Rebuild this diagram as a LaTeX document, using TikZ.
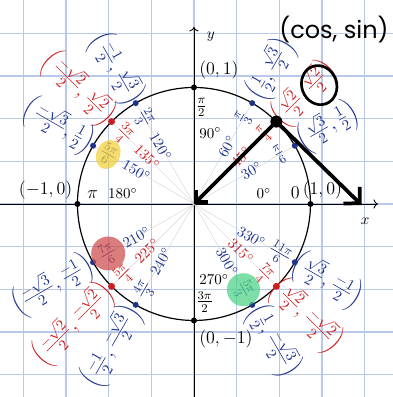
\documentclass[tikz,border=0pt]{standalone}
\usepackage{fontspec}
\newfontfamily\handfont{Poppins}
\usetikzlibrary{arrows.meta}
\definecolor{gridblue}{RGB}{185,200,230}
\definecolor{unitblue}{RGB}{30,50,140}
\definecolor{unitred}{RGB}{205,30,30}
\definecolor{hiyellow}{RGB}{240,205,50}
\definecolor{hired}{RGB}{205,70,70}
\definecolor{higreen}{RGB}{70,210,130}
\tikzset{
  ray/.style={very thin, black!22},
  pen/.style={line width=2.5pt, line cap=round, line join=round},
  blob/.style={opacity=0.7},
  radlabel/.style={font=\large, inner sep=1pt},
  coordlabel/.style={font=\Large, inner sep=1pt},
  ptlabel/.style={font=\large},
}
\begin{document}
\begin{tikzpicture}[x=2.73cm, y=2.73cm]
    \useasboundingbox (-1.665,-1.657) rectangle (1.708,1.751);
    % Paper grid
    \draw[gridblue, line width=0.9pt] (-1.8,-1.8) grid[step=1cm] (1.8,1.8);

    % Axes
    \draw[->, semithick] (-1.7,0) -- (1.579,0) node[below left, xshift=-2pt, yshift=-6pt] (xlab) {$x$};
    \draw[->, semithick] (0,-1.7) -- (0,1.519) node[below right, xshift=5pt] (ylab) {$y$};

    % Unit circle
    \draw[thick] (0,0) circle (1);
    \path (0,0) coordinate (O)
        (0:1) coordinate (p0) (90:1) coordinate (p90) (180:1) coordinate (p180) (270:1) coordinate (p270)
        (30:1) coordinate (p30) (45:1) coordinate (p45) (60:1) coordinate (p60)
        (120:1) coordinate (p120) (135:1) coordinate (p135) (150:1) coordinate (p150)
        (210:1) coordinate (p210) (225:1) coordinate (p225) (240:1) coordinate (p240)
        (300:1) coordinate (p300) (315:1) coordinate (p315) (330:1) coordinate (p330);

    % Rays
    \draw[ray] (O) -- (p30);  \draw[ray] (O) -- (p45);  \draw[ray] (O) -- (p60);
    \draw[ray] (O) -- (p120); \draw[ray] (O) -- (p135); \draw[ray] (O) -- (p150);
    \draw[ray] (O) -- (p210); \draw[ray] (O) -- (p225); \draw[ray] (O) -- (p240);
    \draw[ray] (O) -- (p300); \draw[ray] (O) -- (p315); \draw[ray] (O) -- (p330);

    % Axis labels
    \node[ptlabel, above right, yshift=2pt] (c0p1) at (p90) {$(0,1)$};
    \node[ptlabel, above left] (cm10) at (p180) {$(-1,0)$};
    \node[ptlabel, above, xshift=8pt] (c10) at (p0) {$(1,0)$};
    \node[ptlabel, below right, yshift=-3pt] (c0m1) at (p270) {$(0,-1)$};
    \node[above] (d0) at (0.6,0) {$0^\circ$};
    \node[ptlabel, above] (r0) at (0.87,0) {$0$};
    \node[right] (d90) at (0,0.61) {$90^\circ$};
    \node[radlabel, right] (r90) at (0,0.83) {$\frac{\pi}{2}$};
    \node[above] (d180) at (-0.61,0) {$180^\circ$};
    \node[ptlabel, above] (r180) at (-0.87,0) {$\pi$};
    \node[right] (d270) at (0,-0.65) {$270^\circ$};
    \node[radlabel, right] (r270) at (0,-0.84) {$\frac{3\pi}{2}$};

    % Degrees
    \node[unitblue, rotate=30] (d30) at (30:0.57) {$30^\circ$};
    \node[unitred, rotate=45] (d45) at (45:0.57) {$45^\circ$};
    \node[unitblue, rotate=60] (d60) at (60:0.57) {$60^\circ$};
    \node[unitblue, rotate=-60] (d120) at (120:0.57) {$120^\circ$};
    \node[unitred, rotate=-45] (d135) at (135:0.57) {$135^\circ$};
    \node[unitblue, rotate=-30] (d150) at (150:0.57) {$150^\circ$};
    \node[unitblue, rotate=30] (d210) at (210:0.57) {$210^\circ$};
    \node[unitred, rotate=45] (d225) at (225:0.57) {$225^\circ$};
    \node[unitblue, rotate=60] (d240) at (240:0.57) {$240^\circ$};
    \node[unitblue, rotate=-60] (d300) at (300:0.57) {$300^\circ$};
    \node[unitred, rotate=-45] (d315) at (315:0.57) {$315^\circ$};
    \node[unitblue, rotate=-30] (d330) at (330:0.57) {$330^\circ$};

    % Radians
    \node[radlabel, unitblue, rotate=30] (r30) at (30:0.85) {$\frac{\pi}{6}$};
    \node[radlabel, unitred, rotate=45] (r45) at (45:0.85) {$\frac{\pi}{4}$};
    \node[radlabel, unitblue, rotate=60] (r60) at (60:0.85) {$\frac{\pi}{3}$};
    \node[radlabel, unitblue, rotate=-60] (r120) at (120:0.85) {$\frac{2\pi}{3}$};
    \node[radlabel, unitred, rotate=-45] (r135) at (135:0.85) {$\frac{3\pi}{4}$};
    \node[radlabel, unitblue, rotate=-30] (r150) at (150:0.85) {$\frac{5\pi}{6}$};
    \node[radlabel, unitblue, rotate=30] (r210) at (210:0.85) {$\frac{7\pi}{6}$};
    \node[radlabel, unitred, rotate=45] (r225) at (225:0.85) {$\frac{5\pi}{4}$};
    \node[radlabel, unitblue, rotate=60] (r240) at (240:0.85) {$\frac{4\pi}{3}$};
    \node[radlabel, unitblue, rotate=-60] (r300) at (300:0.85) {$\frac{5\pi}{3}$};
    \node[radlabel, unitred, rotate=-45] (r315) at (315:0.85) {$\frac{7\pi}{4}$};
    \node[radlabel, unitblue, rotate=-30] (r330) at (330:0.85) {$\frac{11\pi}{6}$};

    % Coordinates
    \node[coordlabel, unitblue, rotate=30] (c30) at (30:1.33) {$\left(\frac{\sqrt{3}}{2},\frac{1}{2}\right)$};
    \node[coordlabel, unitred, rotate=45] (c45) at (45:1.34) {$\left(\frac{\sqrt{2}}{2},\frac{\sqrt{2}}{2}\right)$};
    \node[coordlabel, unitblue, rotate=60] (c60) at (60:1.33) {$\left(\frac{1}{2},\frac{\sqrt{3}}{2}\right)$};
    \node[coordlabel, unitblue, rotate=-60] (c120) at (120:1.34) {$\left(\frac{-1}{2},\frac{\sqrt{3}}{2}\right)$};
    \node[coordlabel, unitred, rotate=-45] (c135) at (135:1.4) {$\left(\frac{-\sqrt{2}}{2},\frac{\sqrt{2}}{2}\right)$};
    \node[coordlabel, unitblue, rotate=-30] (c150) at (150:1.34) {$\left(\frac{-\sqrt{3}}{2},\frac{1}{2}\right)$};
    \node[coordlabel, unitblue, rotate=30] (c210) at (210:1.4) {$\left(\frac{-\sqrt{3}}{2},\frac{-1}{2}\right)$};
    \node[coordlabel, unitred, rotate=45] (c225) at (225:1.46) {$\left(\frac{-\sqrt{2}}{2},\frac{-\sqrt{2}}{2}\right)$};
    \node[coordlabel, unitblue, rotate=60] (c240) at (240:1.41) {$\left(\frac{-1}{2},\frac{-\sqrt{3}}{2}\right)$};
    \node[coordlabel, unitblue, rotate=-60] (c300) at (300:1.36) {$\left(\frac{1}{2},\frac{-\sqrt{3}}{2}\right)$};
    \node[coordlabel, unitred, rotate=-45] (c315) at (315:1.36) {$\left(\frac{\sqrt{2}}{2},\frac{-\sqrt{2}}{2}\right)$};
    \node[coordlabel, unitblue, rotate=-30] (c330) at (330:1.32) {$\left(\frac{\sqrt{3}}{2},\frac{-1}{2}\right)$};

    % Points
    \fill (p0) circle (2pt);  \fill (p90) circle (2pt);
    \fill (p180) circle (2pt); \fill (p270) circle (2pt);
    \fill[unitblue] (p30) circle (2pt);  \fill[unitblue] (p60) circle (2pt);
    \fill[unitblue] (p120) circle (2pt); \fill[unitblue] (p150) circle (2pt);
    \fill[unitblue] (p210) circle (2pt); \fill[unitblue] (p240) circle (2pt);
    \fill[unitblue] (p300) circle (2pt); \fill[unitblue] (p330) circle (2pt);
    \fill[unitred] (p135) circle (2.3pt); \fill[unitred] (p225) circle (2.3pt);
    \fill[unitred] (p315) circle (2.3pt);

    % Highlights
    \fill[hiyellow, blob, rotate around={-25:(r150.center)}] (r150.center) ellipse (0.1 and 0.13);
    \fill[hired, blob] (r210.center) circle (0.146);
    \fill[higreen, blob] (r300.center) circle (0.142);

    % Handwriting
    \coordinate (tip) at (1.44,-0.01);
    \draw[pen, {Straight Barb[angle=90:8pt]}-{Straight Barb[angle=90:11pt]}] (O) -- (p45) -- (tip);
    \fill (p45) circle (4pt);
    \draw[line width=1.8pt, rotate around={20:(1.075,1.02)}] (1.075,1.02) ellipse (0.15 and 0.17);
    \node[font=\handfont\fontsize{16}{18}\selectfont] (cossin) at (1.202,1.494) {(cos, sin)};
\end{tikzpicture}
\end{document}
